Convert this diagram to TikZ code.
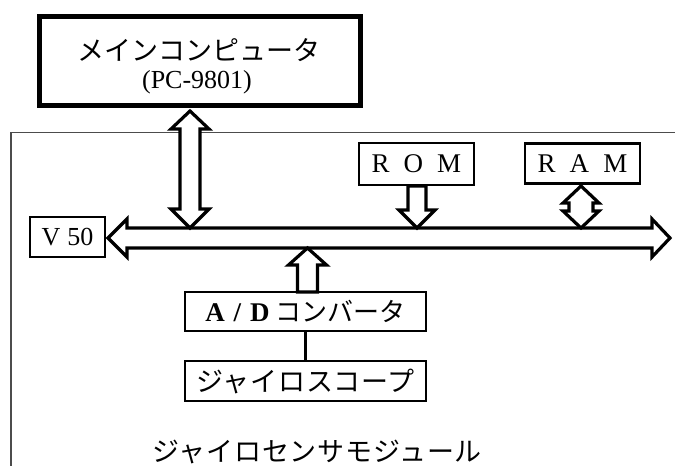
\documentclass[tikz,border=0pt]{standalone}
\usepackage{fontspec}
\setmainfont{Liberation Serif}
\newfontfamily\jp{Noto Sans CJK JP}
\newfontfamily\jpl[LetterSpace=3]{Noto Sans CJK JP}
\tikzset{
  box/.style={draw, line width=2.4pt, fill=white, inner sep=0pt},
  blk/.style={draw, line width=3.2pt, fill=white, line join=miter},
  frame/.style={draw, line width=1.4pt, black!70}
}
\begin{document}
\begin{tikzpicture}[x=1pt, y=-1pt]
\useasboundingbox (0,0) rectangle (675,466);
% module frame
\draw[frame] (675,132.5) -| (11,466);
% main computer
\node[draw, line width=5.5pt, minimum width=321pt, minimum height=89pt, inner sep=0pt] (main) at (200,61) {};
\node[inner sep=0pt] (maint) at (199,50) {\jp\fontsize{27}{27}\selectfont メインコンピュータ};
\node[inner sep=0pt] (mainpc) at (197,82) {\fontsize{26}{26}\selectfont (PC-9801)};
% bus
\draw[blk] (108,238) -- (127,219) -- (127,228) -- (652,228) -- (652,219) -- (670,238)
  -- (652,257) -- (652,248) -- (127,248) -- (127,257) -- cycle;
% arrow main <-> bus
\draw[blk] (190,111) -- (209,129) -- (200,129) -- (200,209) -- (209,209) -- (190,228)
  -- (171,209) -- (180,209) -- (180,129) -- (171,129) -- cycle;
% boxes
\node[box, minimum width=75pt, minimum height=40pt, line width=2.8pt] (v50) at (67.5,237)
  {\fontsize{26}{26}\selectfont V\hspace{7pt}50};
\node[box, minimum width=115pt, minimum height=42pt] (rom) at (416.5,164)
  {\fontsize{27}{27}\selectfont R\hspace{14pt}O\hspace{14pt}M};
\node[box, minimum width=115pt, minimum height=40pt] (ram) at (582.5,163.5)
  {\fontsize{27}{27}\selectfont R\hspace{14pt}A\hspace{14pt}M};
\node[box, minimum width=241pt, minimum height=39pt] (ad) at (305.5,311.5)
  {\fontsize{27}{27}\selectfont\bfseries A\hspace{9pt}/\hspace{9pt}D\hspace{6pt}\mdseries\jp\fontsize{26}{26}\selectfont コンバータ};
\node[box, minimum width=241pt, minimum height=40pt] (gyro) at (305.5,381)
  {\jpl\fontsize{27}{27}\selectfont ジャイロスコープ};
\draw[line width=2.4pt] (ad.south) -- (gyro.north);
% ROM arrow
\draw[blk] (408,186) -- (426,186) -- (426,210) -- (435,210) -- (417,228) -- (399,210) -- (408,210) -- cycle;
% RAM arrow
\draw[blk] (581,186) -- (599,203) -- (593,203) -- (593,211) -- (599,211) -- (581,228)
  -- (563,211) -- (569,211) -- (569,203) -- (563,203) -- cycle;
% A/D arrow
\draw[blk] (307.5,248) -- (326.5,265) -- (317.5,265) -- (317.5,292) -- (297.5,292)
  -- (297.5,265) -- (288.5,265) -- cycle;
% module label
\node[inner sep=0pt] (label) at (317,452) {\jpl\fontsize{27}{27}\selectfont ジャイロセンサモジュール};
\end{tikzpicture}
\end{document}
